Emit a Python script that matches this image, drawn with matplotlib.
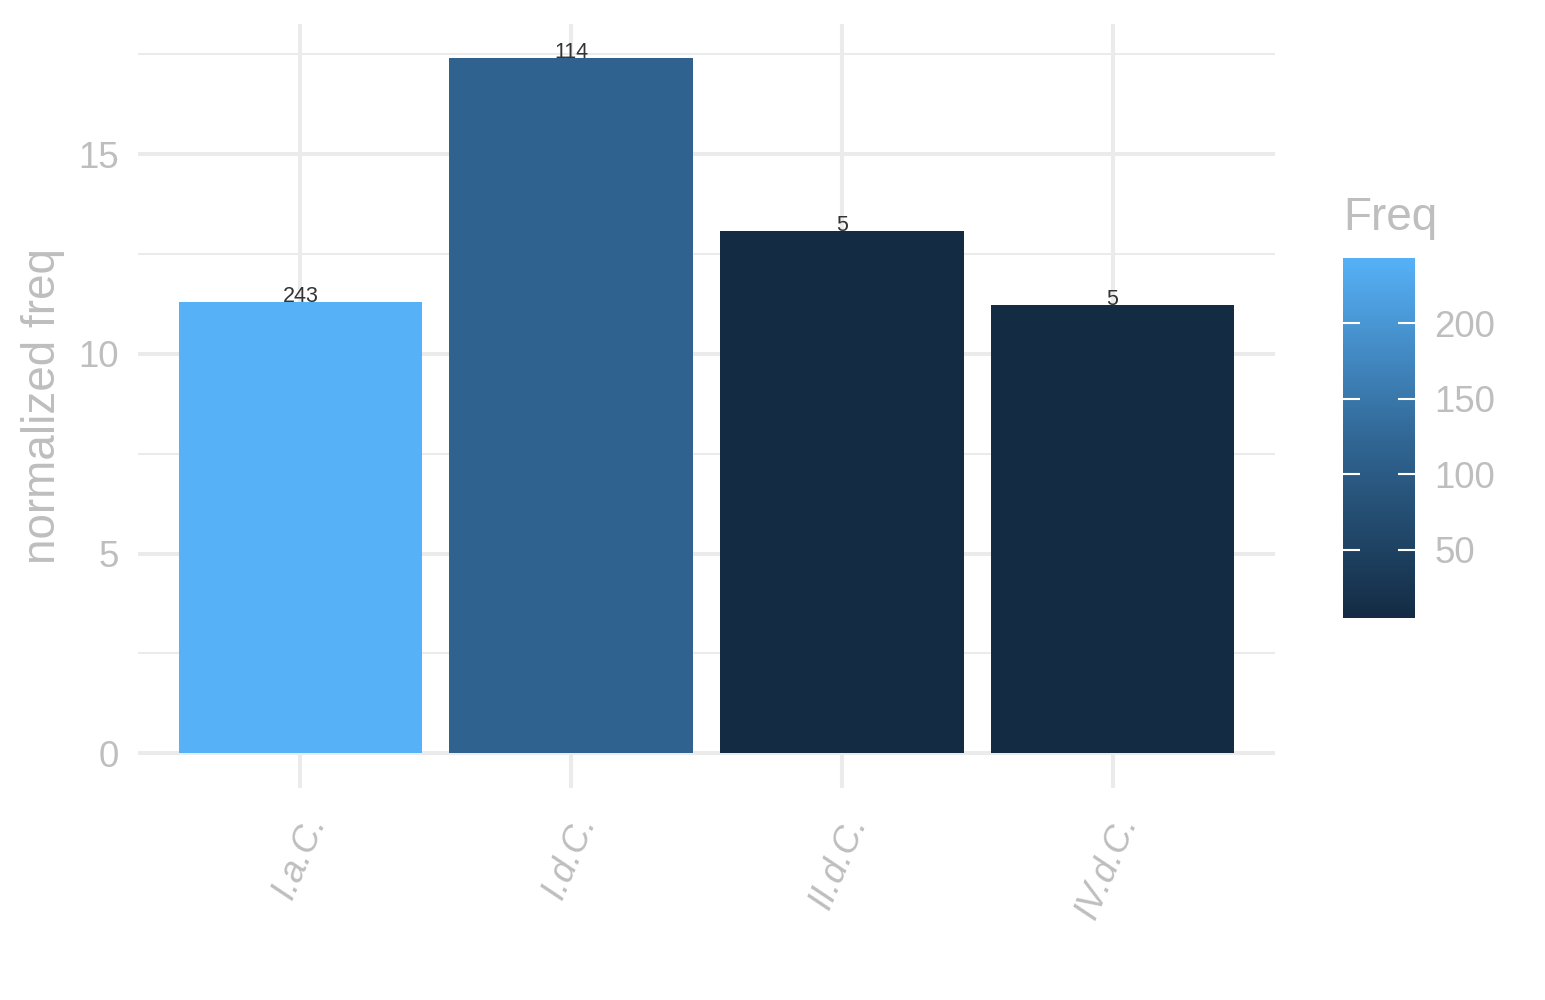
import numpy as np
import matplotlib
matplotlib.use("Agg")
import matplotlib.pyplot as plt
from matplotlib.colors import LinearSegmentedColormap, Normalize
from matplotlib.cm import ScalarMappable

plt.rcParams['font.family'] = ['Liberation Sans', 'DejaVu Sans']

# data
categories = ["I.a.C.", "I.d.C.", "II.d.C.", "IV.d.C."]
norm_freq = [11.29, 17.40, 13.07, 11.22]
freq = [243, 114, 5, 5]

grey = "#BEBEBE"
grid_col = "#EBEBEB"

# ggplot-like default continuous gradient
cmap = LinearSegmentedColormap.from_list(
    "gg", [(0.0, "#132B43"), (0.5, "#316795"), (1.0, "#56B1F7")])
norm = Normalize(vmin=min(freq), vmax=max(freq))

fig = plt.figure(figsize=(15.45, 10), dpi=100)
ax = fig.add_axes([0.0893, 0.212, 0.7359, 0.7645])

x = np.arange(len(categories))
ax.bar(x, norm_freq, width=0.9, color=cmap(norm(freq)), zorder=2)

for xi, v, f in zip(x, norm_freq, freq):
    ax.text(xi, v, str(f), ha="center", va="baseline", fontsize=15.5,
            color="#333333", zorder=3)

ax.set_xlim(-0.6, len(categories) - 0.4)
top = max(norm_freq) * 1.05
ax.set_ylim(-max(norm_freq) * 0.05, top)

ax.set_yticks([0, 5, 10, 15])
ax.set_yticks([2.5, 7.5, 12.5, 17.5], minor=True)
ax.set_xticks(x)
ax.set_xticklabels(categories, rotation=67, style="italic",
                   ha="right", va="top", rotation_mode="anchor")

ax.grid(which="major", color=grid_col, linewidth=2.9, zorder=0)
ax.grid(which="minor", axis="y", color=grid_col, linewidth=1.5, zorder=0)
ax.set_axisbelow(True)
for s in ax.spines.values():
    s.set_visible(False)

ax.tick_params(axis="both", which="both", length=0, labelsize=26.4,
               labelcolor=grey)
ax.tick_params(axis="y", pad=14)
ax.tick_params(axis="x", pad=16)

ax.set_ylabel("normalized freq", fontsize=33, color=grey)
ax.yaxis.set_label_coords(-0.064, 0.5)

# colour legend
cax = fig.add_axes([0.8693, 0.382, 0.0466, 0.36])
cb = fig.colorbar(ScalarMappable(norm=norm, cmap=cmap), cax=cax)
cb.outline.set_visible(False)
cb.set_ticks([50, 100, 150, 200])
cax.tick_params(axis="y", direction="in", length=12, width=1.5,
                color="white", left=True, right=True, labelsize=26.4,
                labelcolor=grey, pad=14)
cax.text(0, 1.078, "Freq", transform=cax.transAxes, ha="left",
         va="baseline", fontsize=33, color=grey)

fig.savefig("out.png", dpi=100)
